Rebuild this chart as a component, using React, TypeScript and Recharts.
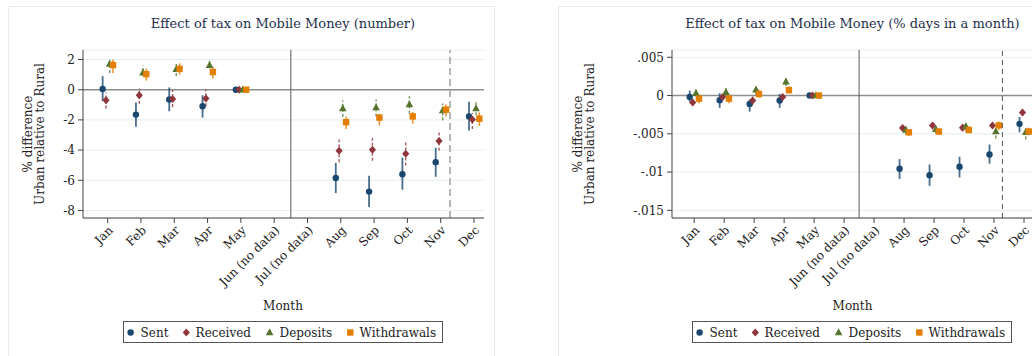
import React from 'react';
import { ScatterChart, Scatter, XAxis, YAxis, CartesianGrid, ReferenceLine, ErrorBar } from 'recharts';

const monthLabels = ['Jan', 'Feb', 'Mar', 'Apr', 'May', 'Jun (no data)', 'Jul (no data)', 'Aug', 'Sep', 'Oct', 'Nov', 'Dec'];
const monthPositions = [1, 2, 3, 4, 5, 6, 7, 8, 9, 10, 11, 12];
const seriesNames = ['Sent', 'Received', 'Deposits', 'Withdrawals'];

// Panel 1: number
const numSentEst = [0.05, -1.65, -0.65, -1.1, 0, null, null, -5.85, -6.75, -5.6, -4.8, -1.77];
const numSentLo = [-0.75, -2.45, -1.43, -1.85, -0.05, null, null, -6.85, -7.77, -6.63, -5.77, -2.7];
const numSentHi = [0.9, -0.85, 0.15, -0.37, 0.05, null, null, -4.85, -5.7, -4.5, -3.85, -0.8];
const numRecEst = [-0.7, -0.37, -0.62, -0.58, 0, null, null, -4.05, -3.98, -4.25, -3.4, -1.98];
const numRecLo = [-1.25, -0.93, -1.15, -1.1, -0.05, null, null, -4.8, -4.7, -5.03, -4.03, -2.6];
const numRecHi = [-0.2, 0.1, 0, 0, 0.05, null, null, -3.3, -3.2, -3.48, -2.7, -1.55];
const numDepEst = [1.7, 1.12, 1.35, 1.63, 0, null, null, -1.25, -1.18, -0.97, -1.37, -1.25];
const numDepLo = [1.1, 0.9, 0.9, 1.4, -0.05, null, null, -1.8, -1.77, -1.58, -2.03, -1.7];
const numDepHi = [2.1, 1.6, 1.7, 1.92, 0.05, null, null, -0.7, -0.65, -0.43, -0.92, -0.7];
const numWdrEst = [1.63, 1.03, 1.38, 1.17, 0, null, null, -2.15, -1.85, -1.77, -1.32, -1.92];
const numWdrLo = [1.1, 0.6, 1.0, 0.75, -0.05, null, null, -2.6, -2.37, -2.25, -1.77, -2.4];
const numWdrHi = [2.0, 1.4, 1.75, 1.52, 0.05, null, null, -1.77, -1.6, -1.48, -0.98, -1.5];
const numTicks = [-8, -6, -4, -2, 0, 2];
const numTickLabels = ['-8', '-6', '-4', '-2', '0', '2'];

// Panel 2: % days in a month
const daySentEst = [-0.0002, -0.0006, -0.0011, -0.00065, 0, null, null, -0.00956, -0.0104, -0.0093, -0.0077, -0.0037];
const daySentLo = [-0.0008, -0.0016, -0.0021, -0.0016, -0.0001, null, null, -0.0109, -0.0118, -0.0107, -0.0089, -0.0048];
const daySentHi = [0.00065, 0.0003, -0.0005, 0.0002, 0.0001, null, null, -0.0083, -0.009, -0.008, -0.0064, -0.0028];
const dayRecEst = [-0.0009, -0.0002, -0.00065, -0.0002, 0, null, null, -0.00425, -0.0039, -0.0042, -0.0039, -0.0022];
const dayRecLo = [-0.0013, -0.0006, -0.0012, -0.0006, -0.0001, null, null, -0.0046, -0.0044, -0.0046, -0.0043, -0.0026];
const dayRecHi = [-0.0005, 0.0002, 0, 0.0002, 0.0001, null, null, -0.0039, -0.0035, -0.0037, -0.0035, -0.0018];
const dayDepEst = [0.0003, 0.00045, 0.00075, 0.0018, 0, null, null, -0.0045, -0.0044, -0.004, -0.0047, -0.0048];
const dayDepLo = [-0.0001, 0, 0.0001, 0.0012, -0.0001, null, null, -0.0051, -0.005, -0.0047, -0.0056, -0.0057];
const dayDepHi = [0.0008, 0.001, 0.0014, 0.0024, 0.0001, null, null, -0.0038, -0.0037, -0.0034, -0.0043, -0.0043];
const dayWdrEst = [-0.0004, -0.0004, 0.0002, 0.0007, 0, null, null, -0.0048, -0.0047, -0.0045, -0.0039, -0.0047];
const dayWdrLo = [-0.001, -0.001, -0.0003, 0.0003, -0.0001, null, null, -0.0053, -0.0052, -0.0049, -0.0045, -0.0052];
const dayWdrHi = [0.0001, 0.0001, 0.00075, 0.0012, 0.0001, null, null, -0.0045, -0.0043, -0.004, -0.0034, -0.0042];
const dayTicks = [-0.015, -0.01, -0.005, 0, 0.005];
const dayTickLabels = ['-.015', '-.01', '-.005', '0', '.005'];

const FONT = '"DejaVu Serif", serif';
const COLORS = ['#1a476f', '#90353b', '#55752f', '#e37e00'];
const SHAPES = ['circle', 'diamond', 'triangle', 'square'];
const OFFSETS = [-0.15, -0.05, 0.06, 0.16];
const CI_WIDTH = [1.8, 1.4, 1.4, 1.6];
const CI_DASH = ['none', '3 2', '3 2', 'none'];

type Num = number | null;

function buildPoints(est: Num[], lo: Num[], hi: Num[], offset: number) {
  const pts: any[] = [];
  est.forEach((v, i) => {
    if (v === null) return;
    const l = lo[i] as number;
    const h = hi[i] as number;
    pts.push({ x: monthPositions[i] + offset, y: v, err: [v - l, h - v] });
  });
  return pts;
}

function Marker({ kind, cx, cy, color }: { kind: string; cx: number; cy: number; color: string }) {
  if (kind === 'circle') return <circle cx={cx} cy={cy} r={3.2} fill={color} />;
  if (kind === 'diamond')
    return <polygon points={`${cx},${cy - 4} ${cx + 3.6},${cy} ${cx},${cy + 4} ${cx - 3.6},${cy}`} fill={color} />;
  if (kind === 'triangle')
    return <polygon points={`${cx},${cy - 4.2} ${cx + 3.8},${cy + 2.8} ${cx - 3.8},${cy + 2.8}`} fill={color} />;
  return <rect x={cx - 3.2} y={cy - 3.2} width={6.4} height={6.4} fill={color} />;
}

function XTick(props: any) {
  const { x, y, payload } = props;
  const idx = monthPositions.indexOf(payload.value);
  const label = idx >= 0 ? monthLabels[idx] : '';
  return (
    <g transform={`translate(${x + 3},${y + 3})`}>
      <text x={0} y={0} dy="0.35em" textAnchor="end" transform="rotate(-45)" fontFamily={FONT} fontSize={12} fill="#222">
        {label}
      </text>
    </g>
  );
}

type PanelProps = {
  left: number;
  width: number;
  yAxisWidth: number;
  rightMargin: number;
  yDomain: [number, number];
  yTicks: number[];
  yTickLabels: string[];
  series: { est: Num[]; lo: Num[]; hi: Num[] }[];
  dashed: { stroke: string; width: number; dash: string };
};

function Panel(p: PanelProps) {
  const fmt = (v: number) => {
    const i = p.yTicks.findIndex((t) => Math.abs(t - v) < 1e-9);
    return i >= 0 ? p.yTickLabels[i] : '';
  };
  return (
    <div style={{ position: 'absolute', left: p.left, top: 0 }}>
      <ScatterChart width={p.width} height={356} margin={{ top: 50, right: p.rightMargin, bottom: 78, left: 0 }}>
        <CartesianGrid horizontal={true} vertical={false} stroke="#e4eef0" strokeWidth={1} />
        <XAxis
          type="number"
          dataKey="x"
          domain={[0.26, 12.3]}
          ticks={monthPositions}
          allowDataOverflow
          height={60}
          tickSize={5}
          tick={<XTick />}
          interval={0}
          stroke="#444"
          tickLine={{ stroke: '#444' }}
          axisLine={{ stroke: '#444' }}
        />
        <YAxis
          type="number"
          dataKey="y"
          domain={p.yDomain}
          ticks={p.yTicks}
          allowDataOverflow
          width={p.yAxisWidth}
          tickSize={5}
          tickMargin={3}
          tickFormatter={fmt}
          interval={0}
          tick={{ fontFamily: FONT, fontSize: 12, fill: '#222' }}
          tickLine={{ stroke: '#444' }}
          axisLine={{ stroke: '#444' }}
        />
        <ReferenceLine y={0} stroke="#8e8e8e" strokeWidth={1.6} />
        <ReferenceLine x={6.5} stroke="#5a5a5a" strokeWidth={1} />
        <ReferenceLine x={11.28} stroke={p.dashed.stroke} strokeWidth={p.dashed.width} strokeDasharray={p.dashed.dash} />
        {p.series.map((s, k) => (
          <Scatter
            key={seriesNames[k]}
            name={seriesNames[k]}
            data={buildPoints(s.est, s.lo, s.hi, OFFSETS[k])}
            isAnimationActive={false}
            shape={(sp: any) => <Marker kind={SHAPES[k]} cx={sp.cx} cy={sp.cy} color={COLORS[k]} />}
          >
            <ErrorBar
              dataKey="err"
              direction="y"
              width={0}
              stroke={COLORS[k]}
              strokeWidth={CI_WIDTH[k]}
              strokeOpacity={0.8}
              strokeDasharray={CI_DASH[k]}
              isAnimationActive={false}
            />
          </Scatter>
        ))}
      </ScatterChart>
    </div>
  );
}

function LegendBox({ left }: { left: number }) {
  const items = [
    { mx: 6.6, tx: 16.6 },
    { mx: 62.3, tx: 71.6 },
    { mx: 145.6, tx: 155.6 },
    { mx: 226.3, tx: 235.6 },
  ];
  return (
    <div
      style={{
        position: 'absolute',
        left,
        top: 321,
        width: 320,
        height: 22,
        border: '1px solid #555',
        boxSizing: 'border-box',
        background: '#fff',
      }}
    >
      <svg width={320} height={22} style={{ position: 'absolute', left: 0, top: 0 }}>
        {items.map((it, k) => (
          <g key={k}>
            <Marker kind={SHAPES[k]} cx={it.mx} cy={10.5} color={COLORS[k]} />
            <text x={it.tx} y={15} fontFamily={FONT} fontSize={12} fill="#222">
              {seriesNames[k]}
            </text>
          </g>
        ))}
      </svg>
    </div>
  );
}

function YLabel({ cx }: { cx: number }) {
  return (
    <div
      style={{
        position: 'absolute',
        left: cx,
        top: 134,
        transform: 'translate(-50%, -50%) rotate(-90deg)',
        fontFamily: FONT,
        fontSize: 12,
        lineHeight: '11.5px',
        color: '#222',
        textAlign: 'center',
        whiteSpace: 'nowrap',
      }}
    >
      % difference
      <br />
      Urban relative to Rural
    </div>
  );
}

function Title({ cx, text }: { cx: number; text: string }) {
  return (
    <div
      style={{
        position: 'absolute',
        left: cx,
        top: 16,
        transform: 'translateX(-50%)',
        fontFamily: FONT,
        fontSize: 13,
        color: '#1f2f4d',
        whiteSpace: 'nowrap',
      }}
    >
      {text}
    </div>
  );
}

function XTitle({ cx }: { cx: number }) {
  return (
    <div
      style={{
        position: 'absolute',
        left: cx,
        top: 299,
        transform: 'translateX(-50%)',
        fontFamily: FONT,
        fontSize: 12,
        color: '#222',
        whiteSpace: 'nowrap',
      }}
    >
      Month
    </div>
  );
}

export default function App() {
  const numSeries = [
    { est: numSentEst, lo: numSentLo, hi: numSentHi },
    { est: numRecEst, lo: numRecLo, hi: numRecHi },
    { est: numDepEst, lo: numDepLo, hi: numDepHi },
    { est: numWdrEst, lo: numWdrLo, hi: numWdrHi },
  ];
  const daySeries = [
    { est: daySentEst, lo: daySentLo, hi: daySentHi },
    { est: dayRecEst, lo: dayRecLo, hi: dayRecHi },
    { est: dayDepEst, lo: dayDepLo, hi: dayDepHi },
    { est: dayWdrEst, lo: dayWdrLo, hi: dayWdrHi },
  ];
  return (
    <div style={{ position: 'absolute', left: 0, top: 0, width: 1032, height: 356, overflow: 'hidden', background: '#fff' }}>
      <div style={{ position: 'absolute', left: 8, top: 6, width: 487, height: 400, border: '1px solid #e3ebee', boxSizing: 'border-box' }} />
      <div style={{ position: 'absolute', left: 558, top: 6, width: 520, height: 400, border: '1px solid #e3ebee', boxSizing: 'border-box' }} />
      <Panel
        left={0}
        width={495}
        yAxisWidth={83}
        rightMargin={11}
        yDomain={[-8.5, 2.63]}
        yTicks={numTicks}
        yTickLabels={numTickLabels}
        series={numSeries}
        dashed={{ stroke: '#b5b5b5', width: 2, dash: '7 4' }}
      />
      <Panel
        left={560}
        width={480}
        yAxisWidth={112}
        rightMargin={7}
        yDomain={[-0.016, 0.00595]}
        yTicks={dayTicks}
        yTickLabels={dayTickLabels}
        series={daySeries}
        dashed={{ stroke: '#555', width: 1, dash: '5 4' }}
      />
      <Title cx={283} text="Effect of tax on Mobile Money (number)" />
      <Title cx={852.5} text="Effect of tax on Mobile Money (% days in a month)" />
      <YLabel cx={34} />
      <YLabel cx={584} />
      <XTitle cx={283} />
      <XTitle cx={852.5} />
      <LegendBox left={122.7} />
      <LegendBox left={692} />
    </div>
  );
}
